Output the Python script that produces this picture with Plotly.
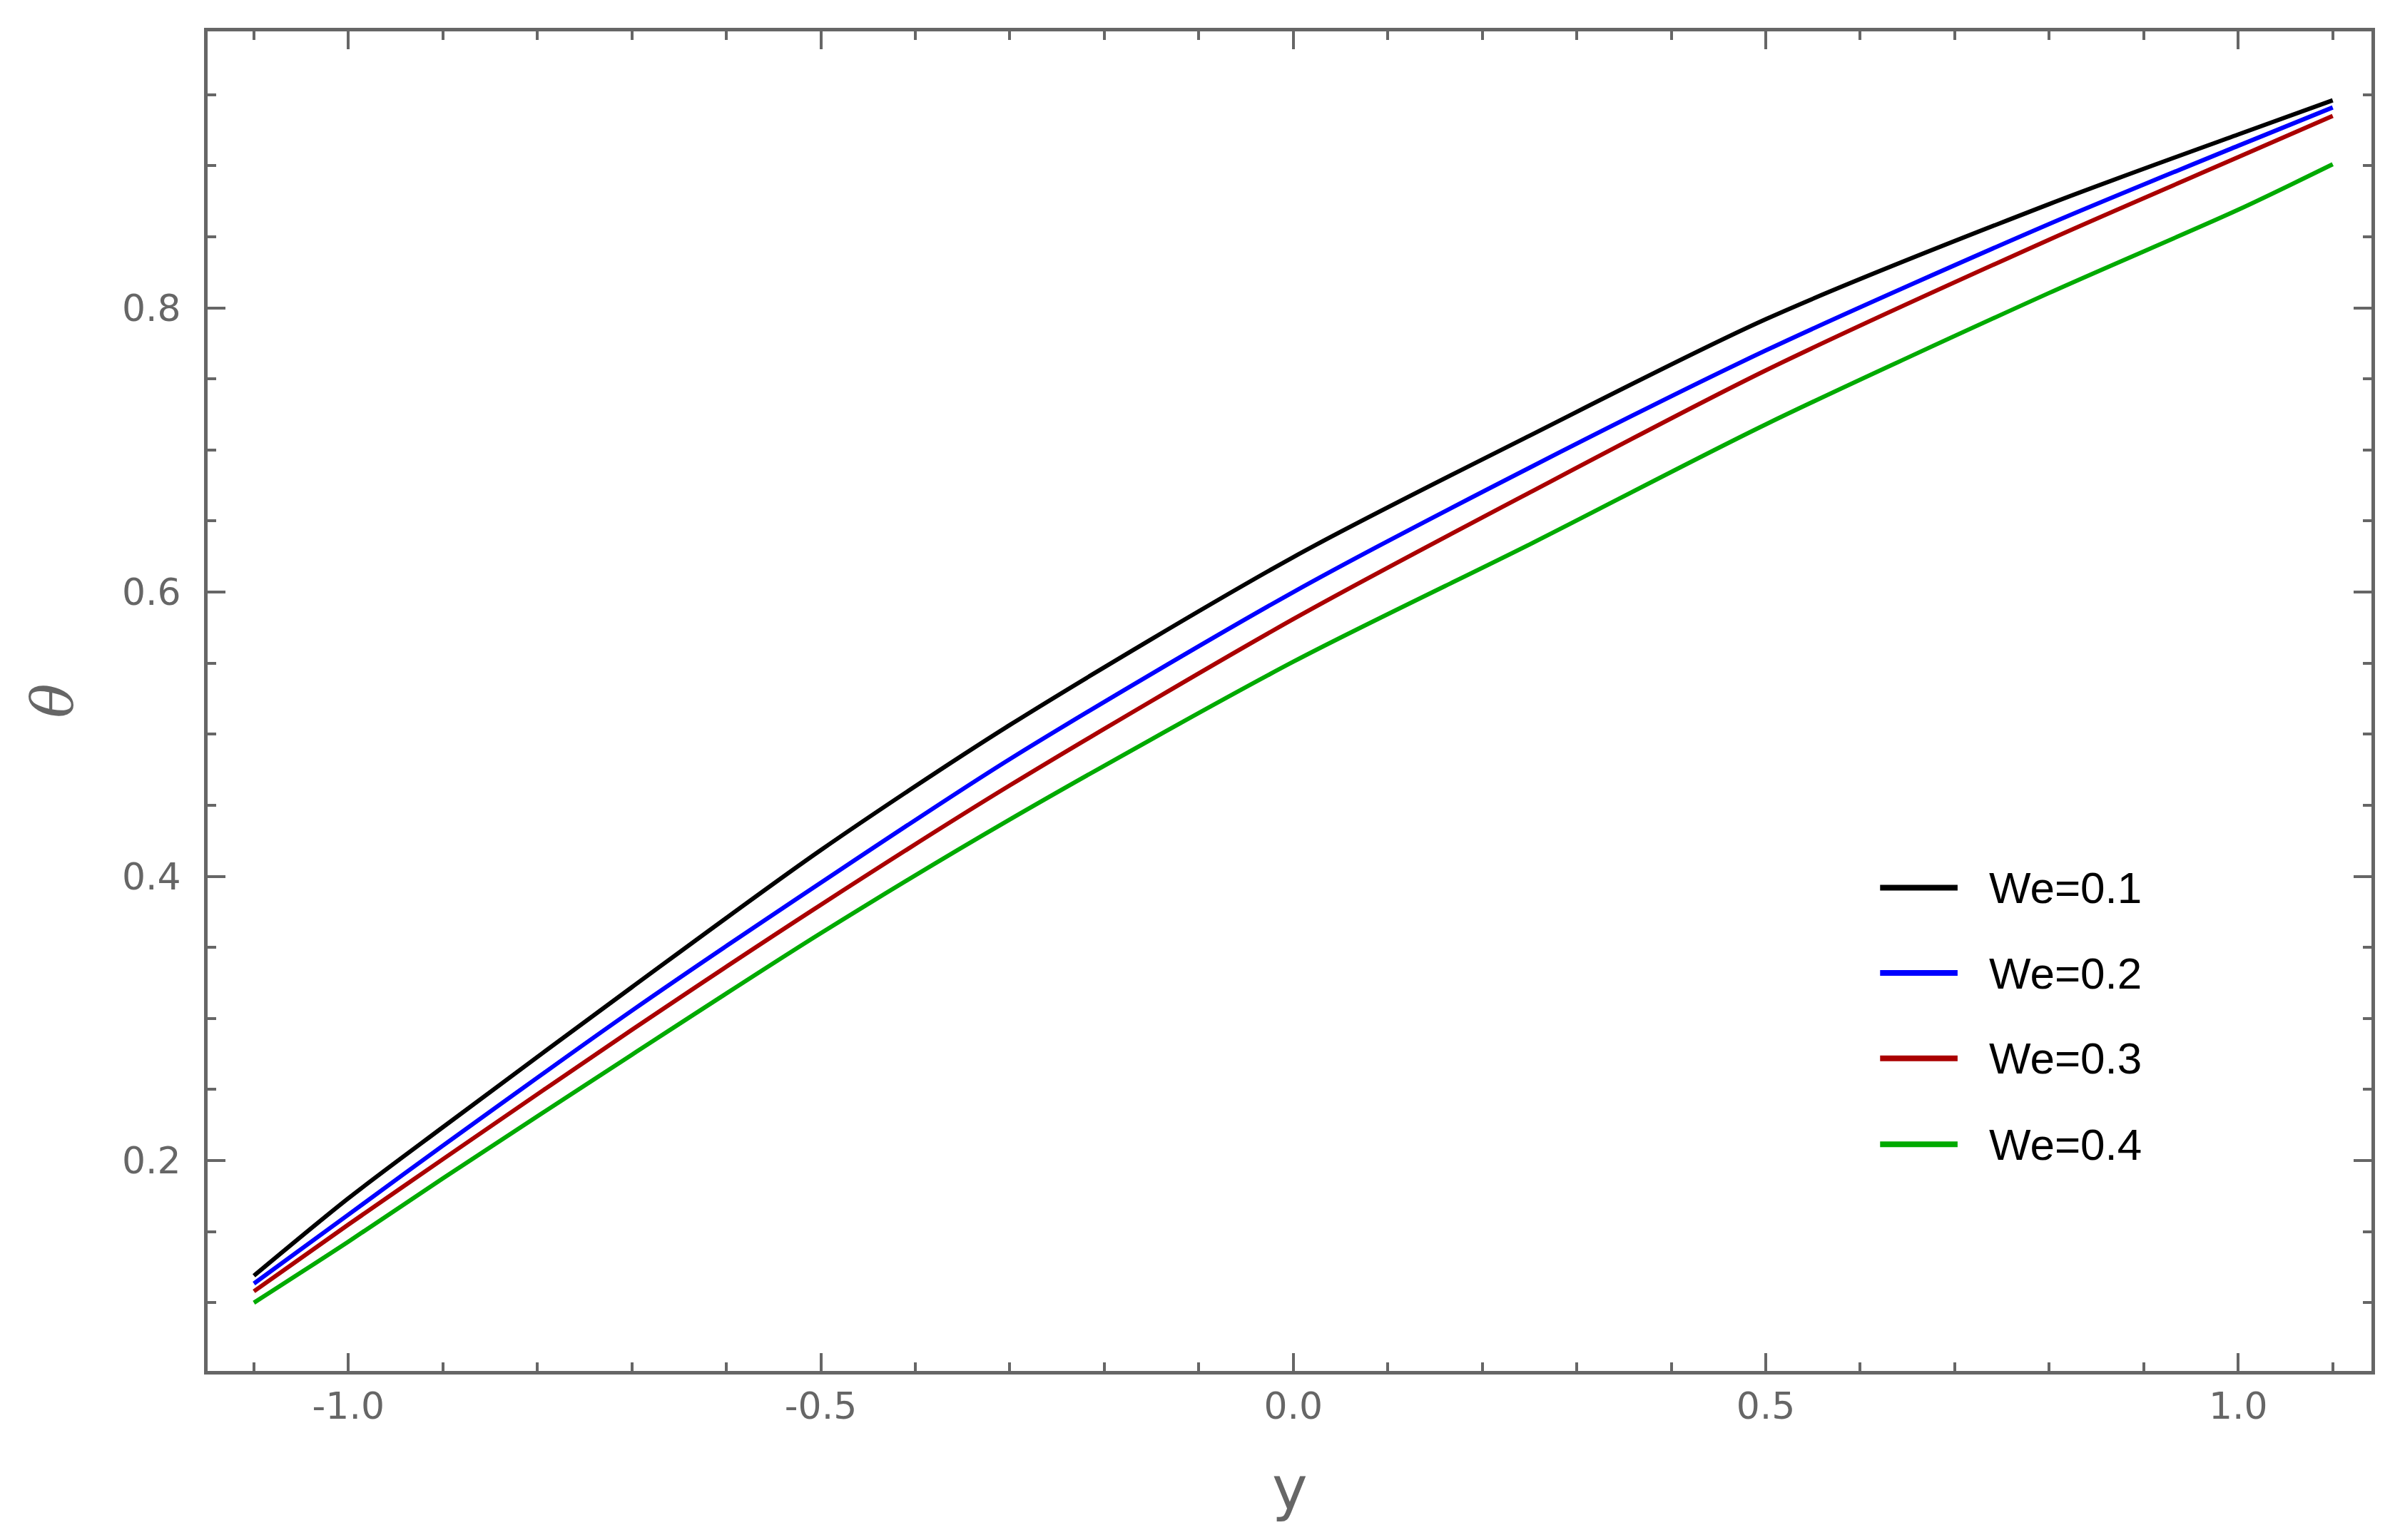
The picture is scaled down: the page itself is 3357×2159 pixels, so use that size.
import plotly.graph_objects as go

# dimensionless coordinate y across the channel
y_coord = [-1.1, -1.0, -0.9, -0.7, -0.5, -0.3, 0.0, 0.25, 0.5, 0.8, 1.0, 1.1]

# temperature profiles theta(y) for different Weissenberg numbers
theta_we01 = [0.119, 0.1735, 0.2235, 0.322, 0.4185, 0.5065, 0.6246, 0.710, 0.792, 0.873, 0.922, 0.946]
theta_we02 = [0.1135, 0.162, 0.2105, 0.3055, 0.3955, 0.4825, 0.600, 0.6875, 0.770, 0.859, 0.914, 0.941]
theta_we03 = [0.108, 0.155, 0.201, 0.292, 0.380, 0.464, 0.581, 0.670, 0.756, 0.848, 0.906, 0.935]
theta_we04 = [0.100, 0.143, 0.1875, 0.2745, 0.360, 0.440, 0.551, 0.6335, 0.718, 0.8105, 0.869, 0.901]

series_names = ["We=0.1", "We=0.2", "We=0.3", "We=0.4"]
series_values = [theta_we01, theta_we02, theta_we03, theta_we04]
series_colors = ["#000000", "#0000ff", "#aa0000", "#00aa00"]

x_ticks = [-1.0, -0.5, 0.0, 0.5, 1.0]
x_tick_text = ["-1.0", "-0.5", "0.0", "0.5", "1.0"]
y_ticks = [0.2, 0.4, 0.6, 0.8]
y_tick_text = ["0.2", "0.4", "0.6", "0.8"]

frame_color = "#666666"
label_color = "#666666"

fig = go.Figure()
for name, vals, col in zip(series_names, series_values, series_colors):
    fig.add_trace(go.Scatter(
        x=y_coord, y=vals, mode="lines", name=name,
        line=dict(color=col, width=6, shape="spline", smoothing=0.8),
        showlegend=False,
    ))

# hand-built legend (long line samples like the original)
legend_rows = [0.392, 0.332, 0.272, 0.2115]
for name, col, yy in zip(series_names, series_colors, legend_rows):
    fig.add_shape(type="line", xref="x", yref="y", x0=0.621, x1=0.703, y0=yy, y1=yy,
                  line=dict(color=col, width=8))
    fig.add_annotation(x=0.735, y=yy, xref="x", yref="y", text=name, showarrow=False,
                       xanchor="left", yanchor="middle",
                       font=dict(family="Liberation Sans", size=62, color="#000000"))

# axis titles
fig.add_annotation(x=0.5, y=-0.088, xref="paper", yref="paper", text="y", showarrow=False,
                   xanchor="center", yanchor="middle",
                   font=dict(family="DejaVu Sans", size=84, color=label_color))
fig.add_annotation(x=-0.072, y=0.5, xref="paper", yref="paper", text="<i>θ</i>", showarrow=False,
                   xanchor="center", yanchor="middle", textangle=-90,
                   font=dict(family="DejaVu Serif", size=80, color=label_color))

axis_common = dict(
    showline=True, linewidth=5, linecolor=frame_color, mirror="ticks",
    ticks="inside", ticklen=25, tickwidth=4, tickcolor=frame_color,
    showgrid=False, zeroline=False,
    tickfont=dict(family="DejaVu Sans", size=52, color=label_color),
)

fig.update_xaxes(
    **axis_common,
    range=[-1.149, 1.141],
    tickvals=x_ticks, ticktext=x_tick_text,
    ticklabelstandoff=0,
    minor=dict(ticks="inside", ticklen=12, tickwidth=4, tickcolor=frame_color, dtick=0.1, tick0=0),
)
fig.update_yaxes(
    **axis_common,
    range=[0.052, 0.9945],
    tickvals=y_ticks, ticktext=y_tick_text,
    ticklabelstandoff=22,
    minor=dict(ticks="inside", ticklen=12, tickwidth=4, tickcolor=frame_color, dtick=0.05, tick0=0),
)

fig.update_layout(
    width=3357, height=2159, autosize=False,
    paper_bgcolor="white", plot_bgcolor="white",
    margin=dict(l=283, r=41, t=36, b=245),
)

fig.write_html("out.html")
